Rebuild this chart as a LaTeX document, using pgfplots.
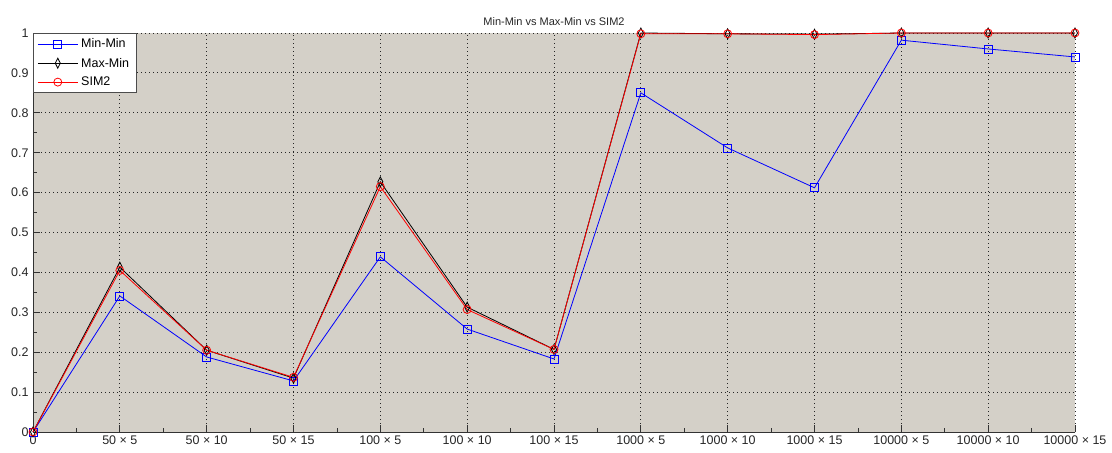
\documentclass[border=0pt]{standalone}
\usepackage{pgfplots}
\pgfplotsset{compat=1.18}
\usepackage{fontspec}
\setmainfont{Liberation Sans}
\definecolor{bgmat}{RGB}{212,208,200}
\begin{document}
\begin{tikzpicture}
\useasboundingbox (-33bp,-21bp) rectangle (1079bp,432bp);
\begin{axis}[
  at={(0,0)}, anchor=south west,
  scale only axis, width=1042bp, height=399bp,
  xmin=0, xmax=12, ymin=0, ymax=1,
  enlargelimits=false, clip=false,
  axis lines=left, axis line style={-, black!80, line width=0.8bp},
  axis background/.style={fill=bgmat},
  xtick={0,...,12},
  xticklabels={0,50 × 5,50 × 10,50 × 15,100 × 5,100 × 10,100 × 15,1000 × 5,1000 × 10,1000 × 15,10000 × 5,10000 × 10,10000 × 15},
  ytick={0,0.1,...,1},
  yticklabels={0,0.1,0.2,0.3,0.4,0.5,0.6,0.7,0.8,0.9,1},
  minor x tick num=1, minor y tick num=1,
  tick align=inside, tick pos=left,
  major tick length=7bp, minor tick length=4bp,
  tick style={black!80, line width=0.8bp},
  grid=major,
  major grid style={black!85, line width=0.9bp, dash pattern=on 1bp off 3bp},
  ticklabel style={font=\fontsize{12.5bp}{14bp}\selectfont, text=black!85},
  xticklabel style={yshift=0bp},
  yticklabel style={xshift=-1bp},
  /pgf/number format/assume math mode=true,
  title={Min-Min vs Max-Min vs SIM2},
  title style={font=\fontsize{11bp}{13bp}\selectfont, text=black!85, yshift=-2bp},
  legend style={at={(0,1)}, anchor=north west, draw=black!70, fill=white,
    line width=0.8bp,
    font=\fontsize{12.5bp}{14bp}\selectfont, inner xsep=4bp, inner ysep=3bp,
    row sep=3.5bp, nodes={inner ysep=2.5bp, inner xsep=3bp}, cells={anchor=west}},
  legend image code/.code={\draw[mark repeat=2,mark phase=2] plot coordinates {(0bp,0bp) (20bp,0bp) (40bp,0bp)};},
  every axis plot/.append style={line width=0.8bp},
]
\addplot[blue, mark=square, mark size=4bp, mark options={solid}] coordinates {
(0,0) (1,0.341) (2,0.188) (3,0.128) (4,0.439) (5,0.258) (6,0.183) (7,0.850) (8,0.712) (9,0.612) (10,0.982) (11,0.960) (12,0.940)};
\addlegendentry{Min-Min}
\addplot[black, mark=diamond, mark size=5bp, mark options={xscale=0.67}] coordinates {
(0,0) (1,0.413) (2,0.205) (3,0.135) (4,0.627) (5,0.313) (6,0.207) (7,1.0) (8,0.998) (9,0.997) (10,1.0) (11,1.0) (12,1.0)};
\addlegendentry{Max-Min}
\addplot[red, mark=o, mark size=4bp] coordinates {
(0,0) (1,0.405) (2,0.205) (3,0.137) (4,0.615) (5,0.307) (6,0.207) (7,0.998) (8,0.998) (9,0.996) (10,1.0) (11,1.0) (12,1.0)};
\addlegendentry{SIM2}
\end{axis}
\end{tikzpicture}
\end{document}
